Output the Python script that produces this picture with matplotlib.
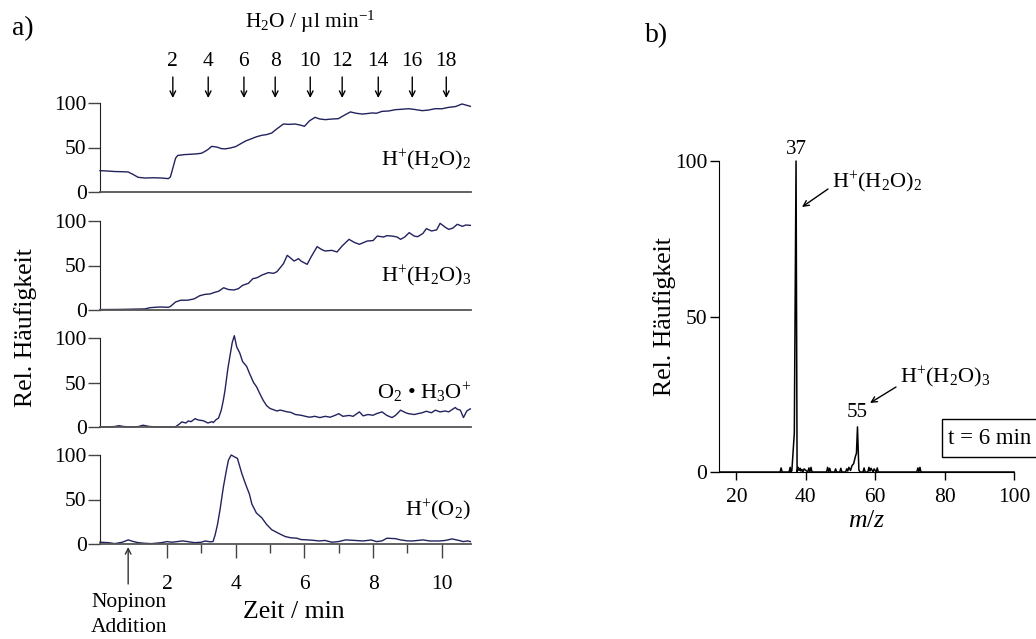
import numpy as np
import matplotlib
matplotlib.use('Agg')
import matplotlib.pyplot as plt
import matplotlib.transforms as mtransforms
from matplotlib.patches import Rectangle

plt.rcParams['font.family'] = ['Liberation Serif', 'DejaVu Serif']
plt.rcParams['mathtext.fontset'] = 'custom'
plt.rcParams['mathtext.rm'] = 'Liberation Serif'
plt.rcParams['mathtext.it'] = 'Liberation Serif:italic'

# Zeitverlaeufe (Zeit / min, rel. Haeufigkeit)
t_h2o2 = [0.05, 0.3, 0.48, 0.7, 0.87, 1.0, 1.16, 1.36, 1.6, 1.84, 2.04, 2.1, 2.25, 2.31, 2.5, 2.82,
          3.0, 3.11, 3.2, 3.30, 3.45, 3.59, 3.7, 3.84, 4.0, 4.18, 4.3, 4.47, 4.6, 4.76, 4.9, 5.05,
          5.2, 5.39, 5.55, 5.73, 5.9, 6.00, 6.15, 6.31, 6.45, 6.61, 6.8, 6.99, 7.15, 7.34, 7.5,
          7.68, 7.8, 7.97, 8.1, 8.26, 8.45, 8.65, 8.85, 9.03, 9.2, 9.43, 9.6, 9.81, 10.0, 10.20,
          10.4, 10.59, 10.83]
v_h2o2 = [24, 23.5, 23, 22.8, 22.5, 20, 16.5, 15.7, 16, 15.7, 15, 17, 38, 41, 42, 42.7,
          43.5, 45.7, 48, 51.3, 50.5, 48.7, 48.5, 49.4, 51, 55, 57.5, 60, 62, 63.7, 64.5, 66.3,
          71, 76.4, 76, 76.4, 75, 73.8, 80, 83.9, 82, 81.3, 82, 82.4, 86, 90, 88.5,
          87.6, 88, 88.8, 88.5, 90.6, 91, 92.5, 93, 93.6, 92.8, 91.4, 92, 93.6, 93.5, 95.1,
          96, 98.9, 96.3]

t_h2o3 = [0.05, 0.5, 0.87, 1.06, 1.36, 1.5, 1.65, 1.8, 2.04, 2.1, 2.25, 2.4, 2.6, 2.79, 2.95, 3.11,
          3.25, 3.4, 3.5, 3.65, 3.79, 3.95, 4.08, 4.2, 4.37, 4.5, 4.6, 4.66, 4.75, 4.95, 5.1, 5.2,
          5.39, 5.5, 5.58, 5.7, 5.83, 5.9, 6.08, 6.2, 6.37, 6.5, 6.6, 6.8, 6.95, 7.1, 7.3,
          7.45, 7.6, 7.83, 8.0, 8.12, 8.3, 8.4, 8.55, 8.7, 8.8, 8.92, 9.05, 9.2, 9.3, 9.45,
          9.55, 9.7, 9.85, 9.95, 10.1, 10.2, 10.32, 10.45, 10.6, 10.7, 10.83]
v_h2o3 = [0.5, 0.6, 0.8, 1, 1.2, 2.6, 3, 3.4, 3, 4, 9, 11, 11, 12.5, 16, 17.6,
          18, 20, 21, 25, 23, 22.5, 24, 27.7, 30, 35.2, 36, 37, 39, 42, 41.2, 43,
          52, 61.4, 59, 55, 57.7, 55, 51.3, 60, 71.2, 68, 66.3, 67, 65.2, 72, 79.4,
          76, 73.8, 77.5, 78, 83.1, 82, 83.5, 83.1, 82, 79.4, 82, 86.9, 83, 82.4, 86,
          91.4, 88.8, 90, 97.4, 93, 90.6, 92, 96.3, 94, 95.5, 95.1]

t_o2h3o = [0.05, 0.48, 0.6, 0.75, 1.0, 1.17, 1.3, 1.5, 1.84, 2.1, 2.24, 2.35, 2.43, 2.55, 2.62,
           2.7, 2.82, 2.9, 3.06, 3.19, 3.31, 3.35, 3.43, 3.5, 3.58, 3.64, 3.69, 3.77, 3.83,
           3.9, 3.96, 4.03, 4.12, 4.2, 4.32, 4.4, 4.52, 4.61, 4.7, 4.8, 4.9, 5.0, 5.2, 5.3,
           5.5, 5.6, 5.74, 5.9, 6.03, 6.15, 6.3, 6.45, 6.61, 6.75, 6.9, 7.0, 7.12, 7.3, 7.42,
           7.6, 7.71, 7.85, 8.0, 8.1, 8.26, 8.4, 8.55, 8.65, 8.8, 8.95, 9.03, 9.2, 9.3, 9.43,
           9.55, 9.7, 9.81, 9.95, 10.1, 10.2, 10.39, 10.45, 10.54, 10.63, 10.73, 10.83]
v_o2h3o = [0, 0.5, 1.5, 0.5, 0, 0.5, 2, 0.5, 0, 0, 0, 3, 5.7, 4.5, 6.8, 6, 9.4, 8, 7, 4.5,
           6, 5, 8.3, 10, 18.9, 30, 41.5, 65, 79, 95, 102.6, 90, 83, 73.6, 68, 60.4, 50, 45,
           37.7, 30, 24, 20.8, 18, 19, 17, 16.5, 14, 13.2, 12, 11, 12, 10.6, 12, 11, 13.2, 15,
           12, 13, 12, 17, 12.5, 14, 13.2, 15, 17, 13, 10.6, 13, 18.9, 16, 15, 14, 15, 16,
           17.7, 16, 18.9, 17, 18, 17, 21.9, 20, 18.9, 10.6, 18.1, 20.4]

t_ho2 = [0.05, 0.3, 0.48, 0.7, 0.87, 1.0, 1.16, 1.35, 1.55, 1.84, 2.0, 2.14, 2.3, 2.45, 2.6,
         2.8, 3.0, 3.11, 3.25, 3.34, 3.4, 3.47, 3.55, 3.64, 3.74, 3.79, 3.87, 3.96, 4.05,
         4.18, 4.3, 4.4, 4.47, 4.6, 4.76, 4.9, 5.05, 5.3, 5.44, 5.6, 5.78, 5.9, 6.1, 6.3,
         6.42, 6.6, 6.8, 6.99, 7.2, 7.47, 7.7, 7.95, 8.1, 8.26, 8.4, 8.65, 8.8, 9.0, 9.15,
         9.45, 9.65, 9.94, 10.1, 10.3, 10.5, 10.63, 10.75, 10.83]
v_ho2 = [2, 1.5, 0.4, 2, 4.6, 3, 1.5, 0.8, 0.4, 1.5, 2.7, 2, 2.7, 3.5, 2.7, 1.5, 2, 3.4, 2.5,
         2.7, 10, 21.8, 40, 63.7, 85, 94.3, 100, 98, 96.2, 79, 66, 56, 45, 35, 29.4, 22, 16, 11,
         8.4, 7, 6.5, 5, 4.6, 4, 3.4, 4, 2, 2.7, 4.6, 4, 3.4, 4.5, 2.7, 3.5, 6.5, 6, 4.6,
         3.5, 3.4, 4.6, 3.4, 3.4, 4, 5.7, 4, 2.7, 3.5, 2.7]

# Massenspektrum bei t = 6 min
mz = [15.5, 32.6, 32.9, 33.2, 35.2, 35.5, 35.8, 36.0, 36.7, 37.2, 37.5, 37.8, 38.1, 38.4, 38.6,
      38.9, 39.2, 39.5, 40.6, 40.9, 41.2, 41.5, 41.8, 46.0, 46.3, 46.6, 46.9, 47.2, 48.3,
      48.6, 48.9, 49.8, 50.1, 50.4, 51.5, 51.8, 52.1, 52.4, 52.9, 53.3, 53.8, 54.3, 54.6,
      54.9, 55.3, 55.6, 56.5, 56.8, 57.1, 57.9, 58.2, 58.5, 58.8, 59.4, 59.7, 60.3, 60.6,
      60.9, 72.0, 72.3, 72.6, 72.9, 73.2, 100.0]
inten = [0, 0, 1.3, 0, 0, 1.5, 0, 0.5, 12.5, 100, 0, 1.5, 0.5, 1.2, 0.3,
         0.8, 0, 1.0, 0, 1.3, 0, 1.5, 0, 0, 1.5, 0, 1.2, 0, 0,
         1.0, 0, 0, 1.2, 0, 0, 1.0, 0.3, 1.5, 0.5, 2, 2.7, 5, 6,
         14.5, 0.7, 0, 0, 1.3, 0, 0, 1.5, 0.3, 1.2, 0, 1.0, 0, 1.3,
         0, 0, 1.3, 0, 1.5, 0, 0]

flow_rates = ['2', '4', '6', '8', '10', '12', '14', '16', '18']
flow_times = [2.17, 3.20, 4.24, 5.15, 6.17, 7.10, 8.15, 9.14, 10.13]

traces = [(t_h2o2, v_h2o2, r'H$^{+}$(H$_{2}$O)$_{2}$', 35),
          (t_h2o3, v_h2o3, r'H$^{+}$(H$_{2}$O)$_{3}$', 38),
          (t_o2h3o, v_o2h3o, r'O$_{2}$ • H$_{3}$O$^{+}$', 38),
          (t_ho2, v_ho2, r'H$^{+}$(O$_{2}$)', 37.5)]

W, H = 1036, 639
fig = plt.figure(figsize=(W / 100, H / 100), dpi=100)


def px_axes(left, top, right, bottom):
    return fig.add_axes([left / W, 1 - bottom / H, (right - left) / W, (bottom - top) / H])


def fx(x):
    return x / W


def fy(y):
    return 1 - y / H


line_col = '#22225e'
zero_px = [192, 310, 427, 544]
axes_a = []
for i, (t, v, name, ypos) in enumerate(traces):
    ax = px_axes(100, zero_px[i] - 89, 471, zero_px[i])
    ax.plot(t, v, color=line_col, lw=1.0, clip_on=False)
    ax.set_xlim(0.05, 10.85)
    ax.set_ylim(0, 100)
    for s in ['top', 'right']:
        ax.spines[s].set_visible(False)
    ax.spines['left'].set_color('#222222')
    ax.spines['bottom'].set_color('#555555')
    ax.spines['bottom'].set_linewidth(1.3)
    ax.set_yticks([0, 50, 100])
    ax.tick_params(axis='y', direction='out', length=8.5, width=1, pad=1,
                   labelsize=15.5, color='#444444')
    ax.text(10.85, ypos, name, ha='right', va='center', fontsize=16)
    if i < 3:
        ax.set_xticks([])
    else:
        ax.set_xticks([2, 4, 6, 8, 10])
        ax.set_xticks([3, 5, 7, 9], minor=True)
        ax.tick_params(axis='x', which='major', direction='out', length=10, width=1,
                       pad=12, labelsize=15.5, color='#444444')
        ax.tick_params(axis='x', which='minor', direction='out', length=6.5, width=1,
                       color='#444444')
    axes_a.append(ax)

# Zufluss-Pfeile oben
trans = mtransforms.blended_transform_factory(axes_a[0].transData, fig.transFigure)
for rate, tt in zip(flow_rates, flow_times):
    axes_a[0].annotate('', xy=(tt, fy(98)), xytext=(tt, fy(77)), xycoords=trans,
                       textcoords=trans, annotation_clip=False,
                       arrowprops=dict(arrowstyle='->', lw=1, color='black',
                                       shrinkA=0, shrinkB=0))
    fig.text(tt, fy(62), rate, transform=trans, ha='center', va='center', fontsize=15.5)
fig.text(fx(310), fy(22), r'H$_{2}$O / µl min$^{-1}$', ha='center', va='center', fontsize=15.5)

# Nopinon-Zugabe
trans4 = mtransforms.blended_transform_factory(axes_a[3].transData, fig.transFigure)
axes_a[3].annotate('', xy=(0.87, fy(547)), xytext=(0.87, fy(584)), xycoords=trans4,
                   textcoords=trans4, annotation_clip=False,
                   arrowprops=dict(arrowstyle='->', lw=1, color='#333333',
                                   shrinkA=0, shrinkB=0))
fig.text(fx(129), fy(603), 'Nopinon', ha='center', va='center', fontsize=15.5)
fig.text(fx(129), fy(628), 'Addition', ha='center', va='center', fontsize=15.5)

fig.text(fx(294), fy(612), 'Zeit / min', ha='center', va='center', fontsize=18.5)
fig.text(fx(26), fy(328), 'Rel. Häufigkeit', ha='center', va='center', rotation=90,
         fontsize=18.5)
fig.text(fx(23), fy(29), 'a)', ha='center', va='center', fontsize=20)

# Panel b
axb = px_axes(719, 161, 1014, 472)
axb.plot(mz, inten, color='black', lw=1.1, clip_on=False)
axb.set_xlim(15, 100)
axb.set_ylim(0, 100)
for s in ['top', 'right']:
    axb.spines[s].set_visible(False)
axb.set_xticks([20, 40, 60, 80, 100])
axb.set_yticks([0, 50, 100])
axb.tick_params(axis='x', direction='out', length=5.5, width=1, pad=6, labelsize=15.5)
axb.tick_params(axis='y', direction='out', length=6.3, width=1, pad=2, labelsize=15.5)
axb.set_xlabel('$m/z$', fontsize=18.5, labelpad=2)
axb.set_ylabel('Rel. Häufigkeit', fontsize=18.5, labelpad=-1)

axb.text(37.2, 100.5, '37', ha='center', va='bottom', fontsize=15)
axb.text(54.9, 16, '55', ha='center', va='bottom', fontsize=15)
fig.text(fx(832), fy(182), r'H$^{+}$(H$_{2}$O)$_{2}$', ha='left', va='center', fontsize=16)
fig.text(fx(900), fy(377), r'H$^{+}$(H$_{2}$O)$_{3}$', ha='left', va='center', fontsize=16)
axb.annotate('', xy=(fx(802), fy(207)), xytext=(fx(828), fy(189)), xycoords='figure fraction',
             textcoords='figure fraction', annotation_clip=False,
             arrowprops=dict(arrowstyle='->', lw=1, color='black', shrinkA=0, shrinkB=0))
axb.annotate('', xy=(fx(870), fy(403)), xytext=(fx(896), fy(387)), xycoords='figure fraction',
             textcoords='figure fraction', annotation_clip=False,
             arrowprops=dict(arrowstyle='->', lw=1, color='black', shrinkA=0, shrinkB=0))
fig.patches.append(Rectangle((fx(942), fy(457)), fx(1045) - fx(942), fy(419) - fy(457),
                             transform=fig.transFigure, fc='white', ec='black', lw=1,
                             figure=fig))
fig.text(fx(948), fy(438), 't = 6 min', ha='left', va='center', fontsize=16.5)
fig.text(fx(657), fy(36), 'b)', ha='center', va='center', fontsize=20)

fig.savefig('out.png', dpi=100)
